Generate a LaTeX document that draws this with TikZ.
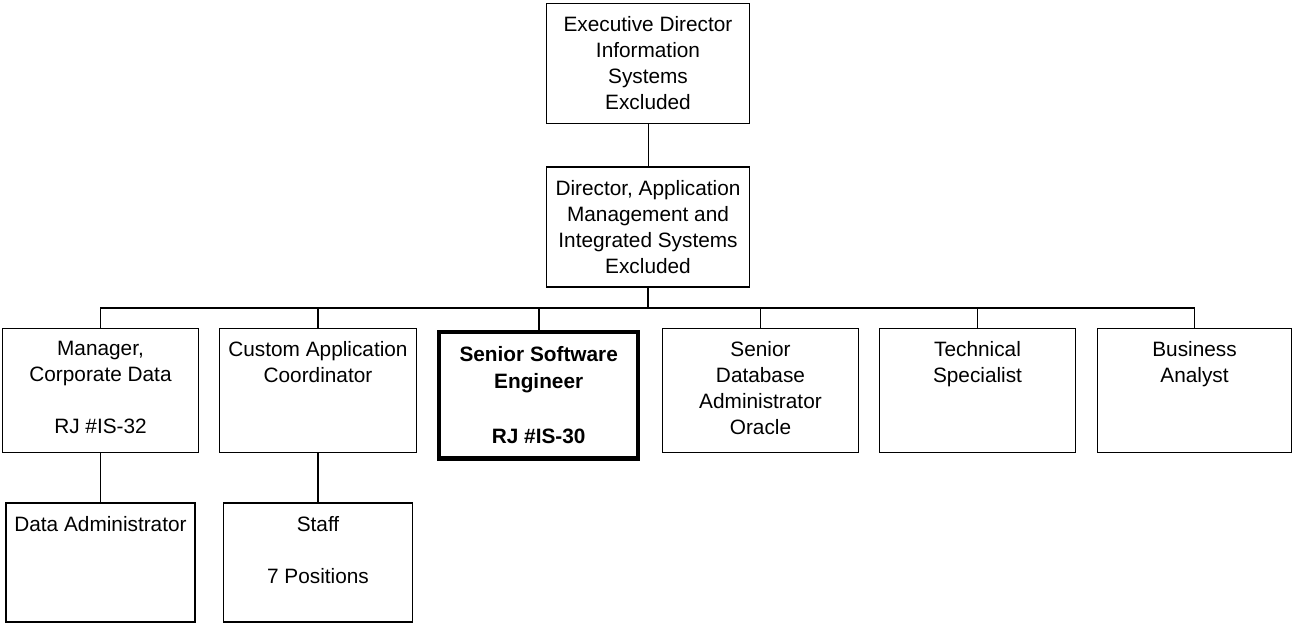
\documentclass[tikz,border=0pt]{standalone}
\usepackage{fontspec}
\setmainfont{Liberation Sans}
\usetikzlibrary{positioning}
\newcommand{\boxtext}[3]{\parbox[c][#2][t]{#1}{\centering\vspace*{13pt}#3\par}}

\begin{document}
\begin{tikzpicture}[x=1pt, y=-1pt,
    box/.style={draw, rectangle, inner sep=0pt, line width=1.6pt, font=\fontsize{20.8}{26}\selectfont},
    keybox/.style={draw, rectangle, inner sep=0pt, line width=4.5pt, font=\fontsize{20.8}{27.5}\selectfont\bfseries},
    link/.style={line width=1.6pt}]
    \useasboundingbox (0,0) rectangle (1293,624);

    \node[box] (EXEC) at (648,63.5)
      {\boxtext{203pt}{120pt}{Executive Director\\ Information\\ Systems\\ Excluded}};
    \node[box, below=42pt of EXEC] (DIR)
      {\boxtext{203pt}{120pt}{Director, Application\\ Management and\\ Integrated Systems\\ Excluded}};

    \node[box] (MGR) at (100.5,390.5)
      {\boxtext{196pt}{124pt}{Manager,\\ Corporate Data\\[26pt] RJ \#IS-32}};
    \node[box] (CAC) at (318,390.5)
      {\boxtext{197pt}{124pt}{Custom Application\\ Coordinator}};
    \node[keybox] (SSE) at (538.7,395)
      {\boxtext{199pt}{126.5pt}{\vspace*{1.5pt}Senior Software\\ Engineer\\[27.5pt] RJ \#IS-30}};
    \node[box] (DBA) at (760.5,390.5)
      {\boxtext{196pt}{124pt}{Senior\\ Database\\ Administrator\\ Oracle}};
    \node[box] (TECH) at (977.5,390.5)
      {\boxtext{196pt}{124pt}{Technical\\ Specialist}};
    \node[box] (BA) at (1194.5,390.5)
      {\boxtext{194pt}{124pt}{Business\\ Analyst}};

    \node[box, below=49pt of MGR] (DADM)
      {\boxtext{189pt}{119pt}{Data Administrator}};
    \node[box, below=49pt of CAC] (STAFF)
      {\boxtext{189pt}{119pt}{Staff\\[26pt] 7 Positions}};

    \draw[line width=1pt] (EXEC.south) -- (DIR.north);
    \draw[link] (DIR.south) -- ++(0,20) coordinate (BUS);
    \foreach \n in {MGR,CAC,SSE,DBA,TECH,BA}
      \draw[link] (\n.north) |- (BUS);
    \draw[link] (MGR.south) -- (DADM.north);
    \draw[link] (CAC.south) -- (STAFF.north);
\end{tikzpicture}
\end{document}
